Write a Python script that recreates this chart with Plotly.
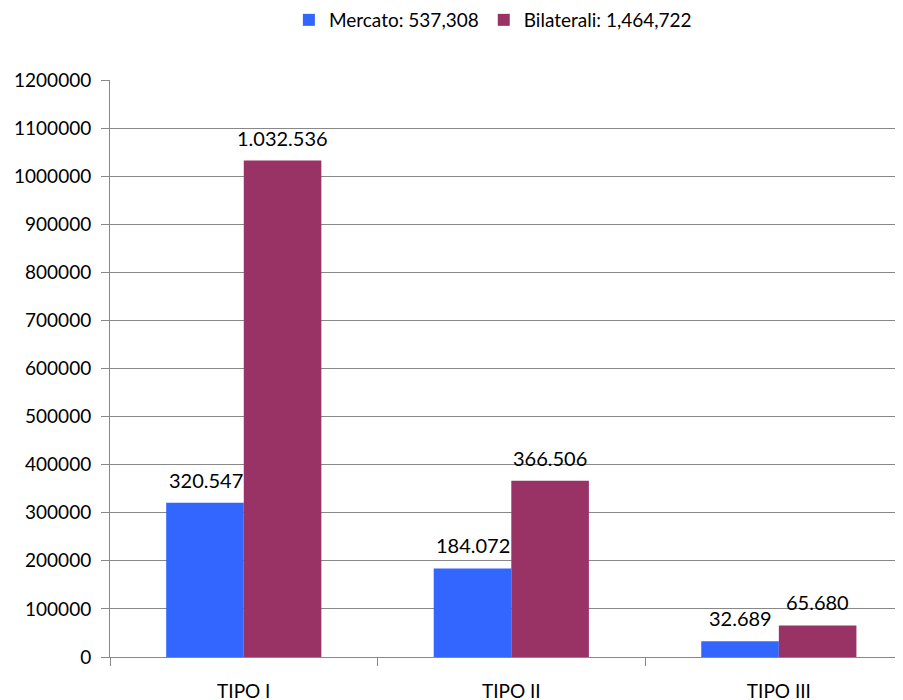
import plotly.graph_objects as go

categories = ["TIPO I", "TIPO II", "TIPO III"]
mercato = [320547, 184072, 32689]
bilaterali = [1032536, 366506, 65680]
mercato_labels = ["320.547", "184.072", "32.689"]
bilaterali_labels = ["1.032.536", "366.506", "65.680"]
tick_vals = list(range(0, 1200001, 100000))

FONT = "Lato, 'Open Sans', sans-serif"
BLUE = "#3366FF"
PURPLE = "#993366"

fig = go.Figure()

fig.add_trace(go.Bar(
    x=categories, y=mercato, name="Mercato: 537,308",
    marker=dict(color=BLUE, line=dict(width=0)),
))
fig.add_trace(go.Bar(
    x=categories, y=bilaterali, name="Bilaterali: 1,464,722",
    marker=dict(color=PURPLE, line=dict(width=0)),
))

# value labels above the bars (page body has an 8px margin, hence the offsets below)
for cat, val, lab in zip(categories, mercato, mercato_labels):
    fig.add_annotation(x=cat, y=val, text=lab, showarrow=False, xshift=-38,
                       yanchor="bottom", yshift=9, font=dict(size=20))
for cat, val, lab in zip(categories, bilaterali, bilaterali_labels):
    fig.add_annotation(x=cat, y=val, text=lab, showarrow=False, xshift=39,
                       yanchor="bottom", yshift=9, font=dict(size=20))

fig.update_layout(
    width=903, height=700,
    margin=dict(l=102, r=0, t=72, b=51, autoexpand=False),
    plot_bgcolor="white", paper_bgcolor="white",
    font=dict(family=FONT, size=19, color="black"),
    barmode="group", bargap=0.42, bargroupgap=0,
    showlegend=True,
    legend=dict(orientation="h", x=0.478, xanchor="center",
                y=1 - 12 / 700, yref="container", yanchor="middle",
                font=dict(size=19), itemwidth=30, tracegroupgap=0),
    xaxis=dict(
        range=[-0.5, 2.494], showgrid=False, automargin=False,
        showline=True, linecolor="#888888", linewidth=1,
        ticks="outside", tickson="boundaries", ticklen=8, tickcolor="#888888",
        ticklabelstandoff=17, tickfont=dict(size=19),
    ),
    yaxis=dict(
        range=[0, 1200000], tickvals=tick_vals, tickformat="d", automargin=False,
        showgrid=True, gridcolor="#888888", gridwidth=1,
        showline=True, linecolor="#888888", linewidth=1,
        ticks="outside", ticklen=8, tickcolor="#888888",
        ticklabelstandoff=6, tickfont=dict(size=19), zeroline=False,
    ),
)

fig.write_html("out.html")
